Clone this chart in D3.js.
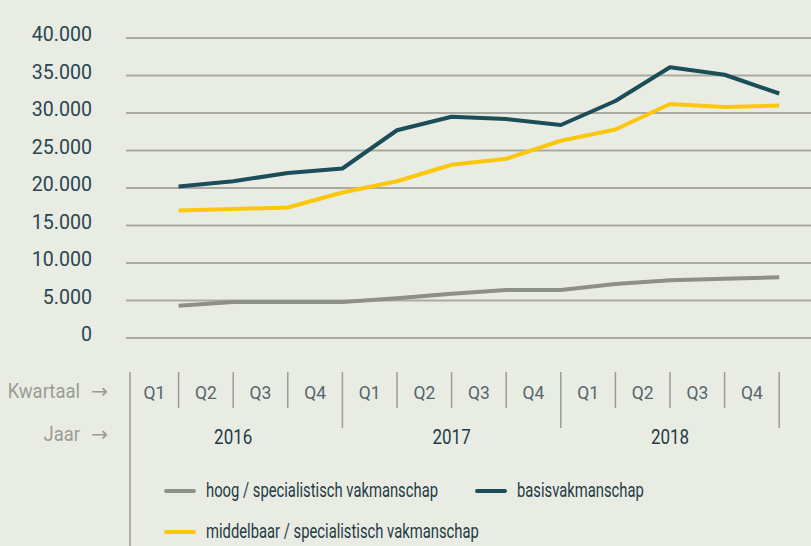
<html>
<script src="https://cdnjs.cloudflare.com/ajax/libs/d3/7.8.5/d3.min.js"></script>
<style>
  body { margin: 0; background: #e9ece3; }
  svg { display: block; font-family: Roboto, "Noto Sans", sans-serif; }
  .tick-y { fill: #2a4650; font-size: 20px; }
  .kw { fill: #9a9c95; font-size: 21px; }
  .arrow { fill: #9a9c95; font-size: 20px; font-family: "DejaVu Sans", sans-serif; }
  .q { fill: #55666b; font-size: 19px; }
  .jaar { fill: #1f3b45; font-size: 20px; }
  .leg { fill: #1f3b45; font-size: 20px; }
</style>
<body>
  <svg width="811" height="546"></svg>
</body>
</html>
<script>

  const quarters = ['Q1', 'Q2', 'Q3', 'Q4', 'Q1', 'Q2', 'Q3', 'Q4', 'Q1', 'Q2', 'Q3', 'Q4'];
  const years = ['2016', '2017', '2018'];
  const yTicks = [0, 5000, 10000, 15000, 20000, 25000, 30000, 35000, 40000];

  const hoog = [4300, 4800, 4800, 4800, 5300, 5900, 6400, 6400, 7200, 7700, 7900, 8100];
  const middelbaar = [17000, 17200, 17400, 19400, 20900, 23100, 23900, 26300, 27800, 31200, 30800, 31000];
  const basis = [20200, 20900, 22000, 22600, 27700, 29500, 29200, 28400, 31600, 36100, 35100, 32600];

  const series = [
    { name: 'hoog / specialistisch vakmanschap', values: hoog, color: '#8d8f89' },
    { name: 'middelbaar / specialistisch vakmanschap', values: middelbaar, color: '#fbc70c' },
    { name: 'basisvakmanschap', values: basis, color: '#1b4e58' }
  ];

  const svg = d3.select('svg');

  const idx = d3.range(quarters.length);

  const xScale = d3.scaleBand()
    .domain(idx)
    .range([124, 779.2])
    .padding(0);

  const yScale = d3.scaleLinear()
    .domain([0, 40000])
    .range([338, 38]);

  const fmt = d => d === 0 ? '0' : d3.format(',')(d).replace(/,/g, '.');

  // the original font is condensed, so squeeze text horizontally
  function ctext(parent, x, y, cls, str, anchor, sx) {
    return parent.append('text')
      .attr('class', cls)
      .attr('transform', `translate(${x}, ${y}) scale(${sx}, 1)`)
      .attr('dy', '0.35em')
      .attr('text-anchor', anchor || 'start')
      .text(str);
  }

  // gridlines
  svg.append('g')
    .selectAll('line')
    .data(yTicks)
    .enter()
    .append('line')
    .attr('x1', 126)
    .attr('x2', 811)
    .attr('y1', d => yScale(d))
    .attr('y2', d => yScale(d))
    .attr('stroke', '#a9aba3')
    .attr('stroke-width', 2);

  const yl = svg.append('g');
  yTicks.forEach(d => ctext(yl, 92, yScale(d) - 4, 'tick-y', fmt(d), 'end', 0.98));

  // lines: point at the end of each quarter
  const line = d3.line()
    .x((d, i) => xScale(i) + xScale.bandwidth())
    .y(d => yScale(d));

  svg.append('g')
    .selectAll('path')
    .data(series)
    .enter()
    .append('path')
    .attr('d', s => line(s.values))
    .attr('fill', 'none')
    .attr('stroke', s => s.color)
    .attr('stroke-width', 4)
    .attr('stroke-linejoin', 'round');

  // quarter axis
  const ax = svg.append('g');

  ax.append('line')
    .attr('x1', 130).attr('x2', 130)
    .attr('y1', 372).attr('y2', 546)
    .attr('stroke', '#9a9c95').attr('stroke-width', 1.5);

  ax.selectAll('line.div')
    .data(idx)
    .enter()
    .append('line')
    .attr('class', 'div')
    .attr('x1', i => xScale(i) + xScale.bandwidth())
    .attr('x2', i => xScale(i) + xScale.bandwidth())
    .attr('y1', 372)
    .attr('y2', i => (i % 4 === 3) ? 428 : 408)
    .attr('stroke', '#9a9c95')
    .attr('stroke-width', 1.5);

  idx.forEach(i => {
    const a = Math.max(xScale(i), 130);
    ctext(ax, (a + xScale(i) + xScale.bandwidth()) / 2, 392, 'q', quarters[i], 'middle', 0.92);
  });

  years.forEach((d, j) => {
    const cx = (xScale(j * 4) + xScale(j * 4 + 3) + xScale.bandwidth()) / 2;
    ctext(ax, cx, 437, 'jaar', d, 'middle', 0.85);
  });

  ctext(ax, 80, 391, 'kw', 'Kwartaal', 'end', 0.88);
  ctext(ax, 80, 434, 'kw', 'Jaar', 'end', 0.88);
  [391, 434].forEach(y => {
    ax.append('text').attr('class', 'arrow')
      .attr('x', 108).attr('y', y).attr('dy', '0.35em')
      .attr('text-anchor', 'end')
      .text('\u2192');
  });

  // legend
  const legendPos = [
    { x: 166, y: 491 },
    { x: 166, y: 532 },
    { x: 477, y: 491 }
  ];

  const leg = svg.append('g')
    .selectAll('g')
    .data(series)
    .enter()
    .append('g')
    .attr('transform', (s, i) => `translate(${legendPos[i].x}, ${legendPos[i].y})`);

  leg.append('line')
    .attr('x1', 0).attr('x2', 28)
    .attr('stroke', s => s.color)
    .attr('stroke-width', 4)
    .attr('stroke-linecap', 'round');

  leg.each(function (s) {
    ctext(d3.select(this), 40, -1, 'leg', s.name, 'start', 0.74);
  });

</script>
